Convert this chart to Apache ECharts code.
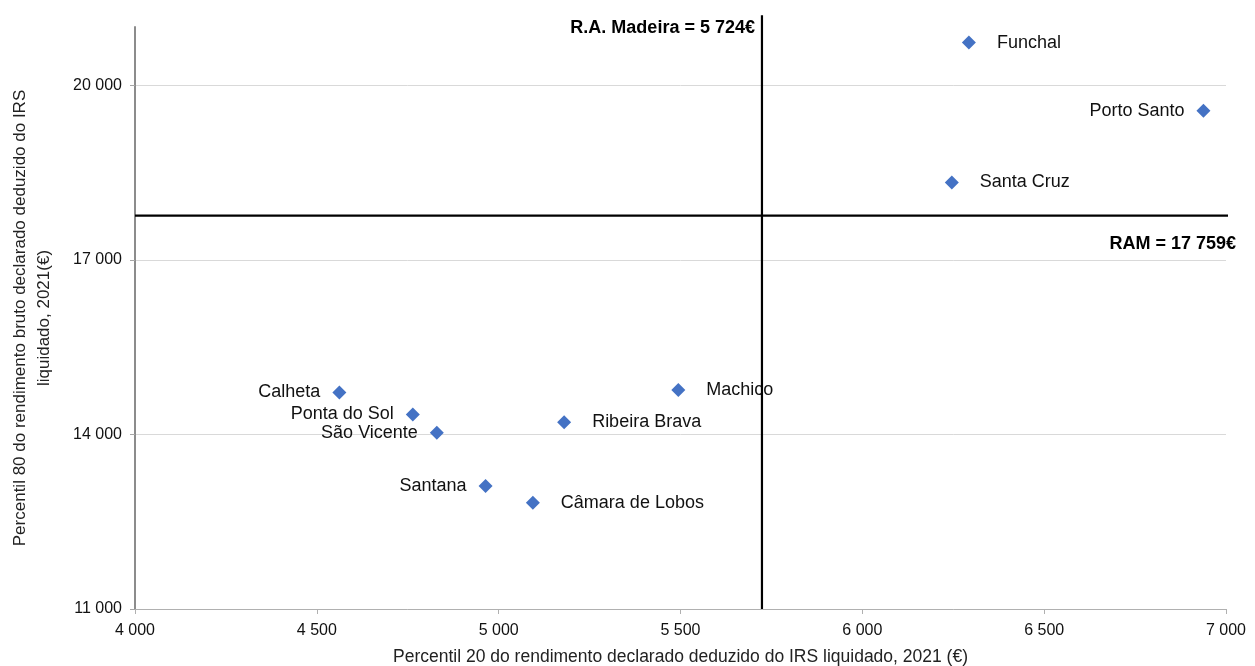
<!DOCTYPE html>
<html>
<head>
<meta charset="utf-8">
<script src="https://cdn.jsdelivr.net/npm/echarts@6/dist/echarts.min.js"></script>
<style>
  html, body { margin: 0; padding: 0; background: #fff; }
  #chart { width: 1255px; height: 666px; }
</style>
</head>
<body>
<div id="chart"></div>
<script>
// concelhos da RAM: percentil 20 (x) e percentil 80 (y)
const municipios = ['Calheta', 'Ponta do Sol', 'São Vicente', 'Santana', 'Câmara de Lobos',
  'Machico', 'Ribeira Brava', 'Funchal', 'Porto Santo', 'Santa Cruz'];
const p20 = [4562, 4764, 4830, 4964, 5094, 5494, 5180, 6293, 6938, 6246];
const p80 = [14722, 14344, 14028, 13113, 12826, 14761, 14207, 20733, 19559, 18329];
// rótulos à esquerda do ponto
const labelLeft = ['Calheta', 'Ponta do Sol', 'São Vicente', 'Santana', 'Porto Santo'];

const yTicks = [11000, 14000, 17000, 20000];

const ramP20 = 5724;
const ramP80 = 17759;

const fmt = v => String(v).replace(/\B(?=(\d{3})+(?!\d))/g, ' ');

let chartDom = document.getElementById('chart');
let myChart = echarts.init(chartDom);

let pontos = municipios.map(function (nome, i) {
  let esq = labelLeft.indexOf(nome) >= 0;
  return {
    name: nome,
    value: [p20[i], p80[i]],
    label: {
      position: esq ? 'left' : 'right',
      distance: esq ? 12 : 21
    }
  };
});

let option = {
  animation: false,
  textStyle: { fontFamily: 'Liberation Sans, Arial, sans-serif' },
  grid: { left: 135, right: 29, top: 27, bottom: 57, containLabel: false, outerBoundsMode: 'none' },
  xAxis: {
    type: 'value',
    min: 4000,
    max: 7000,
    interval: 500,
    name: 'Percentil 20 do rendimento declarado deduzido do IRS liquidado, 2021 (€)',
    nameLocation: 'middle',
    nameGap: 39,
    nameTextStyle: { fontSize: 17.5, color: '#222' },
    axisLine: { lineStyle: { color: '#b0b0b0', width: 1 } },
    axisTick: { show: true, length: 5, lineStyle: { color: '#b0b0b0' } },
    axisLabel: { fontSize: 16, color: '#111', margin: 14, formatter: fmt },
    splitLine: { show: false }
  },
  yAxis: {
    type: 'value',
    min: 11000,
    max: 21000,
    interval: 3000,
    name: 'Percentil 80 do rendimento bruto declarado deduzido do IRS\nliquidado, 2021(€)',
    nameLocation: 'middle',
    nameGap: 79,
    nameTextStyle: { fontSize: 17, color: '#222', lineHeight: 24 },
    axisLine: { show: true, lineStyle: { color: '#8c8c8c', width: 2 } },
    axisTick: { show: true, length: 5, customValues: yTicks, lineStyle: { color: '#a6a6a6' } },
    axisLabel: { fontSize: 16, color: '#111', margin: 13, customValues: yTicks, formatter: fmt },
    splitLine: { show: true, lineStyle: { color: '#d9d9d9', width: 1 } }
  },
  series: [
    {
      name: 'R.A. Madeira P20',
      type: 'line',
      clip: false,
      silent: true,
      symbol: 'none',
      lineStyle: { color: '#000', width: 2.2 },
      data: [
        [ramP20, 11000],
        {
          value: [ramP20, 21200],
          symbol: 'circle',
          symbolSize: 0,
          label: {
            show: true,
            position: 'left',
            distance: 7,
            offset: [0, 13],
            formatter: 'R.A. Madeira = ' + fmt(ramP20) + '€',
            fontSize: 18,
            fontWeight: 'bold',
            color: '#000'
          }
        }
      ]
    },
    {
      name: 'RAM P80',
      type: 'line',
      clip: false,
      silent: true,
      symbol: 'none',
      lineStyle: { color: '#000', width: 2.2 },
      data: [
        [4000, ramP80],
        {
          value: [7025, ramP80],
          symbol: 'circle',
          symbolSize: 0,
          label: {
            show: true,
            position: 'left',
            distance: 0,
            offset: [1, 28],
            formatter: 'RAM = ' + fmt(ramP80) + '€',
            fontSize: 18,
            fontWeight: 'bold',
            color: '#000'
          }
        }
      ]
    },
    {
      name: 'Concelhos',
      type: 'scatter',
      symbol: 'diamond',
      symbolSize: 14,
      itemStyle: { color: '#4472c4', opacity: 1 },
      label: {
        show: true,
        formatter: '{b}',
        fontSize: 18,
        color: '#111',
        opacity: 1
      },
      data: pontos
    }
  ]
};

myChart.setOption(option);
window.addEventListener('resize', () => {
  myChart.resize();
});
</script>
</body>
</html>
